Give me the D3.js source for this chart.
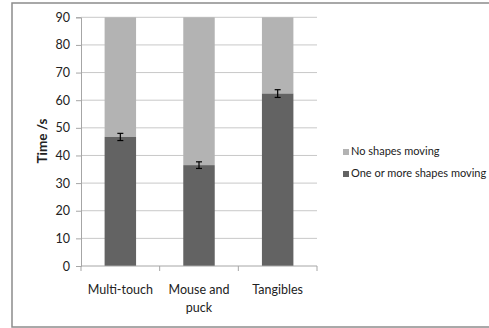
<!DOCTYPE html>
<html><head><meta charset="utf-8">
<script src="https://cdn.jsdelivr.net/npm/d3@7"></script>
<style>body{margin:0;background:#fff}svg{display:block}text{font-family:Lato,"Open Sans",sans-serif}</style>
</head><body>
<svg id="c" width="489" height="328"></svg>
<script>
const categories = ["Multi-touch", "Mouse and puck", "Tangibles"];
const moving = [46.7, 36.5, 62.4];
const movingErr = [1.3, 1.2, 1.4];
const total = [90, 90, 90];
const yTicks = [0,10,20,30,40,50,60,70,80,90];
const seriesNames = ["No shapes moving", "One or more shapes moving"];
const colors = ["#b3b3b3", "#636363"];

const svg = d3.select("#c");
svg.append("rect").attr("x",12).attr("y",3).attr("width",490).attr("height",324)
  .attr("fill","#fff").attr("stroke","#8c8c8c").attr("stroke-width",1.5);

const m = {l:81, r:317, t:17.3, b:266};
const x = d3.scaleBand().domain(categories).range([m.l,m.r]).paddingInner(0.6).paddingOuter(0.3);
const y = d3.scaleLinear().domain([0,90]).range([m.b,m.t]);

// gridlines
svg.append("g").selectAll("line").data(yTicks.filter(d=>d>0)).join("line")
  .attr("x1",m.l).attr("x2",m.r).attr("y1",d=>y(d)).attr("y2",d=>y(d))
  .attr("stroke","#c8c8c8").attr("stroke-width",1);

// y axis
const ya = svg.append("g").attr("transform",`translate(${m.l},0)`)
  .call(d3.axisLeft(y).tickValues(yTicks).tickSize(5).tickPadding(6));
ya.select(".domain").attr("stroke","#a6a6a6");
ya.selectAll(".tick line").attr("stroke","#a6a6a6");
ya.selectAll("text").attr("font-size",12.5).attr("fill","#222");

// bars
const g = svg.append("g");
categories.forEach((c,i)=>{
  g.append("rect").attr("x",x(c)).attr("width",x.bandwidth())
    .attr("y",y(total[i])).attr("height",y(moving[i])-y(total[i])).attr("fill",colors[0]);
  g.append("rect").attr("x",x(c)).attr("width",x.bandwidth())
    .attr("y",y(moving[i])).attr("height",y(0)-y(moving[i])).attr("fill",colors[1]);
  const cx = x(c)+x.bandwidth()/2;
  const eb = g.append("g").attr("stroke","#000").attr("stroke-width",1.2);
  eb.append("line").attr("x1",cx).attr("x2",cx).attr("y1",y(moving[i]+movingErr[i])).attr("y2",y(moving[i]-movingErr[i]));
  [moving[i]+movingErr[i], moving[i]-movingErr[i]].forEach(v=>
    eb.append("line").attr("x1",cx-3).attr("x2",cx+3).attr("y1",y(v)).attr("y2",y(v)));
});

// x axis
const xa = svg.append("g").attr("transform",`translate(0,${m.b})`);
xa.append("line").attr("x1",m.l).attr("x2",m.r).attr("stroke","#a6a6a6");
const step = (m.r-m.l)/categories.length;
d3.range(categories.length+1).forEach(k=>
  xa.append("line").attr("x1",m.l+k*step).attr("x2",m.l+k*step).attr("y1",0).attr("y2",5).attr("stroke","#a6a6a6"));
const lines = [["Multi-touch"],["Mouse and","puck"],["Tangibles"]];
categories.forEach((c,i)=>{
  const t = xa.append("text").attr("text-anchor","middle").attr("font-size",12.5).attr("fill","#222")
    .attr("x",x(c)+x.bandwidth()/2).attr("y",28);
  lines[i].forEach((s,j)=>t.append("tspan").attr("x",x(c)+x.bandwidth()/2).attr("dy",j?18:0).text(s));
});

// y title
svg.append("text").attr("transform","translate(47,141) rotate(-90)").attr("text-anchor","middle")
  .attr("font-size",13.5).attr("font-weight","bold").attr("fill","#222").text("Time /s");

// legend
const lg = svg.append("g");
seriesNames.forEach((s,i)=>{
  const yy = 155 + i*22;
  lg.append("rect").attr("x",343).attr("y",yy-6).attr("width",6).attr("height",6).attr("fill",colors[i]);
  lg.append("text").attr("x",351).attr("y",yy).attr("font-size",11).attr("fill","#222").text(s);
});
</script>
</body></html>
